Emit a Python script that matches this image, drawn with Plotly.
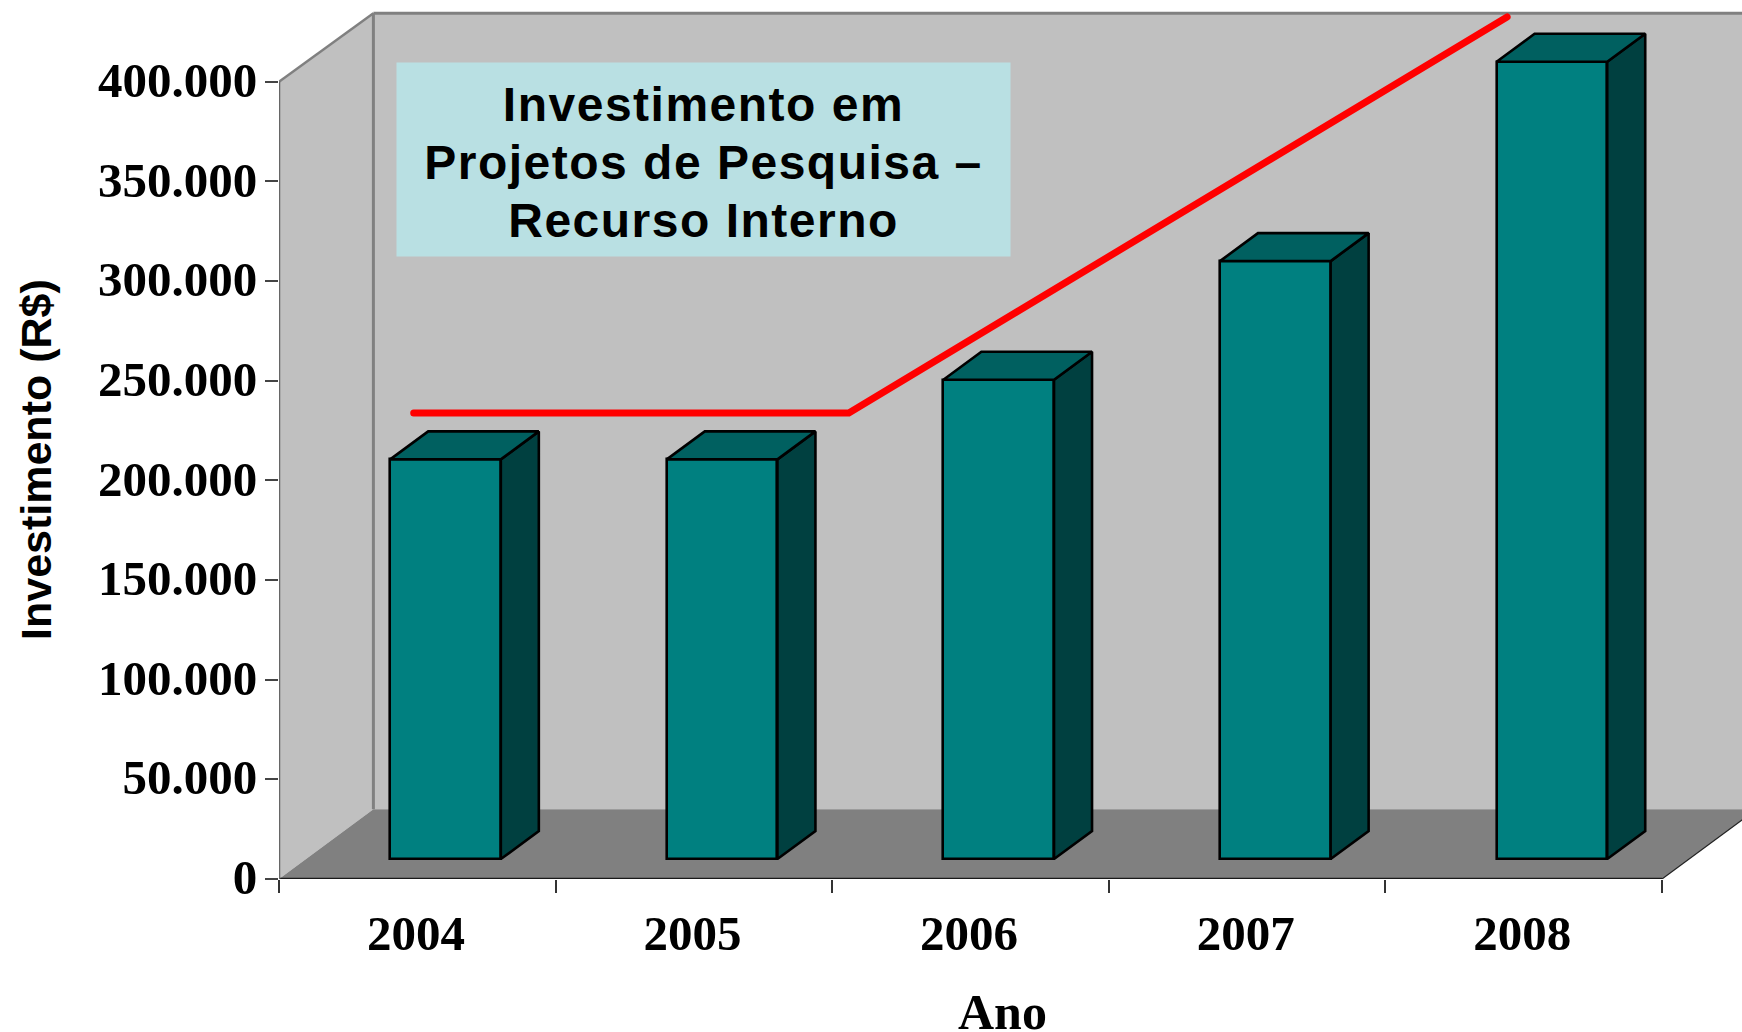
import plotly.graph_objects as go

years = ["2004", "2005", "2006", "2007", "2008"]
investimento = [200500, 200500, 240500, 300000, 400000]
y_ticks = [0, 50000, 100000, 150000, 200000, 250000, 300000, 350000, 400000]
y_labels = ["0", "50.000", "100.000", "150.000", "200.000", "250.000", "300.000", "350.000", "400.000"]
trend_x = [0.487, 2.06, 4.44]
trend_y = [233800, 233800, 432500]

# layout in pixels
W, H = 1742, 1032
L, B = 279, 153
BAND = 276.6
PX_PER_UNIT = 797.3 / 400000
X_MAX = (W - L) / BAND
Y_MAX = (H - B) / PX_PER_UNIT

# pseudo-3D depth, in data units
WALL_DX, WALL_DY = 94.4 / BAND, 35000
WALL_TOP = 434300
BAR_DX, BAR_DY = 38 / BAND, 14050
BAR_BASE = 10000
BAR_W = 0.4
BAR_OFFSET = 0.602

WALL, FLOOR, GREY = "#C0C0C0", "#808080", "#808080"
FRONT, SIDE, TOP = "#008080", "#004040", "#006060"
SERIF = "Liberation Serif"
SANS = "Liberation Sans"
OUTLINE = 2.6


def poly(xs, ys, fill, line=None, width=0):
    path = "M " + " L ".join(f"{x},{y}" for x, y in zip(xs, ys)) + " Z"
    return dict(type="path", path=path, xref="x", yref="y", layer="below",
                fillcolor=fill, line=dict(color=line or fill, width=width))


shapes = [
    # back wall, side wall, floor
    poly([WALL_DX, X_MAX + 1, X_MAX + 1, WALL_DX],
         [WALL_DY, WALL_DY, WALL_TOP, WALL_TOP], WALL),
    poly([0, WALL_DX, WALL_DX, 0], [0, WALL_DY, WALL_TOP, 400000], WALL),
    poly([0, 5, 5 + WALL_DX, WALL_DX], [0, 0, WALL_DY, WALL_DY], FLOOR),
    # wall edges
    dict(type="line", xref="x", yref="y", layer="below", x0=WALL_DX, x1=WALL_DX, y0=WALL_DY,
         y1=WALL_TOP, line=dict(color=GREY, width=3)),
    dict(type="line", xref="x", yref="y", layer="below", x0=WALL_DX, x1=X_MAX + 1, y0=WALL_TOP,
         y1=WALL_TOP, line=dict(color=GREY, width=3)),
    dict(type="line", xref="x", yref="y", layer="below", x0=0, x1=WALL_DX, y0=400000,
         y1=WALL_TOP, line=dict(color=GREY, width=2.5)),
    dict(type="line", xref="x", yref="y", layer="below", x0=5, x1=5 + WALL_DX, y0=0,
         y1=WALL_DY, line=dict(color="#222222", width=1.2)),
]

fig = go.Figure()
centers = [i + BAR_OFFSET for i in range(len(years))]

fig.add_trace(go.Bar(x=centers, y=investimento, base=BAR_BASE, width=BAR_W,
                     marker=dict(color=FRONT, line=dict(color="black", width=OUTLINE)),
                     showlegend=False, hoverinfo="skip"))

for c, v in zip(centers, investimento):
    left, right = c - BAR_W / 2, c + BAR_W / 2
    bottom, top = BAR_BASE, BAR_BASE + v
    fig.add_trace(go.Scatter(
        x=[right, right + BAR_DX, right + BAR_DX, right, right],
        y=[bottom, bottom + BAR_DY, top + BAR_DY, top, bottom],
        mode="lines", fill="toself", fillcolor=SIDE, line=dict(color="black", width=OUTLINE),
        showlegend=False, hoverinfo="skip"))
    fig.add_trace(go.Scatter(
        x=[left, left + BAR_DX, right + BAR_DX, right, left],
        y=[top, top + BAR_DY, top + BAR_DY, top, top],
        mode="lines", fill="toself", fillcolor=TOP, line=dict(color="black", width=OUTLINE),
        showlegend=False, hoverinfo="skip"))

# axis lines stop at the chart's own edges
fig.add_trace(go.Scatter(x=[0, 5], y=[0, 0], mode="lines", cliponaxis=False,
                         line=dict(color="#1a1a1a", width=2.5), showlegend=False, hoverinfo="skip"))
fig.add_trace(go.Scatter(x=[0, 0], y=[0, 400000], mode="lines", cliponaxis=False,
                         line=dict(color="#666666", width=2.5), showlegend=False, hoverinfo="skip"))

fig.add_trace(go.Scatter(x=trend_x, y=trend_y, mode="lines", cliponaxis=False,
                         line=dict(color="#FF0000", width=7), showlegend=False, hoverinfo="skip"))

fig.update_layout(
    width=W, height=H, autosize=False,
    margin=dict(l=L, r=0, t=0, b=B, pad=0),
    paper_bgcolor="white", plot_bgcolor="white",
    shapes=shapes, bargap=0,
    xaxis=dict(range=[0, X_MAX], showgrid=False, zeroline=False, showline=False,
               tickmode="array", tickvals=[i + 0.495 for i in range(len(years))], ticktext=years,
               ticks="", ticklabelstandoff=21,
               tickfont=dict(family=SERIF, size=49, color="black", weight="bold"),
               minor=dict(tickmode="array", tickvals=list(range(6)), ticks="outside",
                          ticklen=13, tickwidth=1.5, tickcolor="#333333", showgrid=False)),
    yaxis=dict(range=[0, Y_MAX], showgrid=False, zeroline=False, showline=False,
               tickmode="array", tickvals=y_ticks, ticktext=y_labels,
               ticks="outside", ticklen=13, tickwidth=2, tickcolor="#444444",
               ticklabelstandoff=-2,
               tickfont=dict(family=SERIF, size=49, color="black", weight="bold")),
    annotations=[
        dict(xref="paper", yref="paper", x=(703.5 - L) / (W - L), y=(H - B - 160) / (H - B),
             xanchor="center", yanchor="middle", showarrow=False, align="center",
             width=611, height=191, bgcolor="#B9E0E3",
             text="<b>Investimento em<br>Projetos de Pesquisa –<br>Recurso Interno</b>",
             font=dict(family=SANS, size=48, color="black")),
        dict(xref="paper", yref="paper", x=(36 - L) / (W - L), y=(H - B - 460) / (H - B),
             xanchor="center", yanchor="middle", showarrow=False, textangle=-90,
             text="<b>Investimento (R$)</b>", font=dict(family=SANS, size=43, color="black")),
        dict(xref="paper", yref="paper", x=(1002 - L) / (W - L), y=-(1012 - (H - B)) / (H - B),
             xanchor="center", yanchor="middle", showarrow=False,
             text="<b>Ano</b>", font=dict(family=SERIF, size=50, color="black")),
    ],
)

POST = """
document.body.style.margin='0';document.body.style.overflow='hidden';
document.querySelectorAll('.annotation-text').forEach(function(t){
  var lines=t.querySelectorAll('tspan.line');
  if(lines.length===3){
    t.style.letterSpacing='1.5px';
    lines.forEach(function(l,i){
      l.setAttribute('dy',(i*58/48)+'em');
      l.setAttribute('y',parseFloat(l.getAttribute('y'))+7);
    });
  }
});
document.querySelectorAll('.ytick text').forEach(function(t){t.setAttribute('dy','-2');});
var tr=document.querySelectorAll('.scatterlayer .trace');
var red=tr[tr.length-1].querySelector('.js-line');
if(red){red.style.strokeLinecap='round';}
"""
fig.write_html("out.html", config={"displayModeBar": False}, post_script=POST)
